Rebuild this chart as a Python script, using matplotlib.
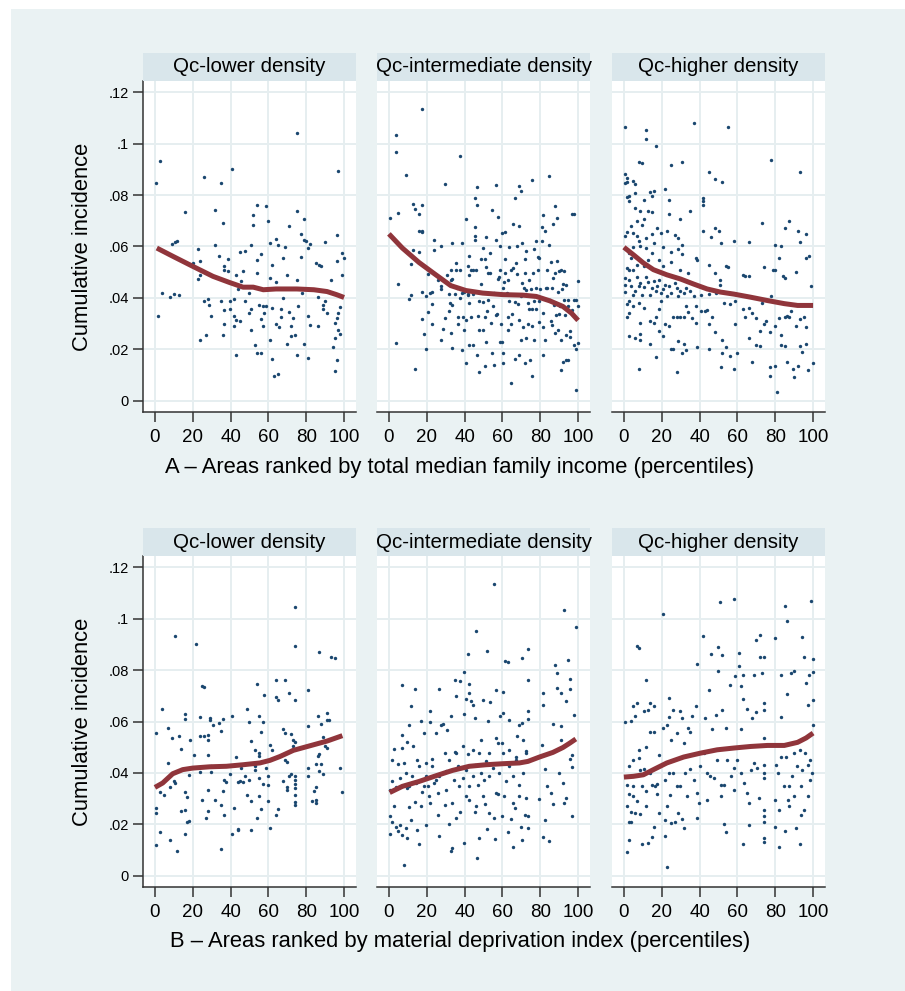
import numpy as np
import matplotlib
matplotlib.use("Agg")
import matplotlib.pyplot as plt
from matplotlib.patches import Rectangle

plt.rcParams['font.family'] = ['Liberation Sans', 'DejaVu Sans']

# ---- data (x = percentile rank, y = cumulative incidence) ----
panel_titles = ['Qc-lower density', 'Qc-intermediate density', 'Qc-higher density']
row_titles = ['A \u2013 Areas ranked by total median family income (percentiles)',
              'B \u2013 Areas ranked by material deprivation index (percentiles)']
xticks = [0, 20, 40, 60, 80, 100]
yticks = [0, .02, .04, .06, .08, .1, .12]
ytick_labels = ['0', '.02', '.04', '.06', '.08', '.1', '.12']

# A: income, lower density
a1_pts = [(0.7,.0845),(2.8,.0933),(1.8,.033),(3.7,.0419),(7.8,.0403),(9.9,.0416),(12.8,.041),(8.9,.0611),
    (10.8,.0619),(11.9,.062),(15.8,.0734),(19.9,.0536),(22.7,.059),(23.8,.0542),(22.7,.0472),(23.8,.0488),
    (23.8,.0235),(25.7,.0869),(25.7,.039),(27.8,.0396),(26.8,.0258),(28.7,.0371),(29.8,.033),(31.7,.0743),
    (31.7,.0606),(33.7,.0562),(34.8,.0846),(34.8,.0388),(35.8,.0693),(35.8,.0258),(36.7,.0523),(36.7,.0509),
    (36.7,.0354),(36.7,.03),(38.8,.055),(38.8,.0503),(39.7,.0387),(39.7,.0359),(40.8,.0902),(41.7,.0396),
    (41.7,.033),(41.7,.0292),(42.7,.0489),(42.7,.0313),(42.7,.0178),(43.8,.0436),(44.9,.058),(44.9,.0309),
    (45.7,.0467),(46.8,.0505),(47.7,.0584),(47.7,.0388),(49.8,.0419),(49.8,.0343),(50.9,.0605),(50.9,.0357),
    (50.9,.0274),(51.9,.0721),(51.9,.0682),(52.8,.0217),(53.9,.0762),(53.9,.0546),(53.9,.0496),(53.9,.0188),
    (55,.0371),(55.9,.0572),(55.9,.0318),(55.9,.0186),(56.9,.0367),(56.9,.0292),(57.8,.0341),(58.9,.0759),
    (58.9,.0367),(59.9,.07),(60.8,.0615),(60.8,.0479),(60.8,.0235),(61.9,.0528),(61.9,.0363),(61.9,.0162),
    (62.9,.0097),(63.8,.0631),(63.8,.0463),(63.8,.0298),(64.9,.0605),(64.9,.0104),(65.8,.0289),(66.8,.0357),
    (66.8,.0328),(67.9,.0554),(67.9,.04),(69,.0597),(69.9,.0489),(69.9,.0223),(70.9,.0681),(70.9,.0344),
    (72,.0292),(72,.0254),(72.9,.0324),(73.9,.0256),(75,.1042),(75,.0736),(75,.047),(75,.0179),(75.9,.0367),
    (77,.065),(77,.0559),(78,.0419),(78.9,.0707),(78.9,.0627),(78.9,.0223),(80,.0621),(80.9,.033),(80.9,.0167),
    (81.9,.0295),(81.9,.061),(81,.0596),(84.9,.0536),(86,.0292),(86,.0402),(87,.0528),(87.9,.0525),(89,.0374),
    (89,.0357),(90.1,.0616),(90.1,.0388),(91,.0341),(93.1,.0471),(94,.0211),(95,.0304),(95,.0245),(95,.0118),
    (96.1,.0646),(96.1,.0545),(96.1,.0324),(96.1,.016),(97,.0894),(97,.0341),(97,.0276),(98,.0366),(98,.0261),
    (99.1,.0575),(99.1,.049),(100,.0554)]
a1_fit = [(1,.0594),(10,.0560),(20,.0523),(30.7,.0484),(39.5,.046),(46.6,.0442),(52,.0442),(57.3,.0432),
    (64,.0435),(75,.0435),(84,.0432),(91,.0425),(96,.0413),(100,.0402)]

# A: income, intermediate density
a2_pts = [(0.7,.0711),(3.9,.1034),(3.9,.0967),(4.8,.073),(4.8,.0453),(3.9,.0227),(8.8,.0877),(10.8,.0397),
    (11.9,.0411),(11.9,.0533),(12.9,.0765),(12.9,.0588),(13.8,.0746),(13.8,.0123),(15.8,.0726),(15.8,.066),
    (15.8,.058),(17.7,.066),(17.7,.0655),(17.7,.076),(17.7,.1134),(17.7,.0422),(17.7,.0318),(18.8,.0259),
    (19.8,.0406),(19.8,.0202),(20.7,.0493),(20.7,.0346),(21.8,.0419),(22.7,.0423),(22.7,.0378),(22.7,.0298),
    (23.7,.0627),(23.7,.0588),(25.7,.0471),(27.6,.0445),(27.6,.0433),(27.6,.0602),(27.6,.0235),(28.7,.0281),
    (29.7,.0842),(29.7,.0323),(30.8,.0491),(31.7,.0415),(31.7,.0348),(32.7,.051),(32.7,.0263),(33.6,.0612),
    (33.6,.0475),(33.6,.0371),(33.6,.0206),(34.7,.0416),(35.6,.0537),(35.6,.051),(36.5,.0327),(36.5,.03),
    (37.5,.0952),(37.5,.051),(37.5,.04),(38.6,.0612),(38.6,.0197),(39.6,.0276),(40.5,.0708),(40.5,.0315),
    (40.5,.0147),(41.6,.0526),(41.6,.0413),(42.5,.0562),(42.5,.0217),(43.5,.051),(44.6,.0414),(44.6,.0218),
    (45.5,.0627),(45.5,.0676),(45.5,.0789),(45.5,.0641),(46.5,.0833),(46.5,.076),(46.5,.0178),(47.6,.0113),
    (47.6,.0276),(48.5,.055),(48.5,.0453),(49.6,.0593),(49.6,.0276),(50.6,.055),(50.6,.0136),(51.5,.0638),
    (51.5,.023),(52.6,.0497),(52.6,.0393),(53.6,.0575),(54.5,.0742),(54.5,.0186),(55.6,.0419),(55.6,.0139),
    (56.6,.0838),(56.6,.0627),(56.6,.0333),(57.5,.0713),(57.5,.0475),(58.6,.0602),(58.6,.023),(59.6,.0654),
    (59.6,.023),(60.5,.0186),(60.5,.0147),(61.6,.0655),(61.6,.055),(62.7,.0471),(62.7,.0328),(63.5,.0597),
    (64.6,.0297),(64.6,.0069),(65.7,.0687),(65.7,.0515),(66.5,.0162),(66.5,.079),(67.6,.0602),(67.6,.0493),
    (68.7,.0834),(68.7,.0681),(68.7,.018),(69.7,.0817),(69.7,.0235),(70.6,.0612),(70.6,.0458),(71.7,.0551),
    (71.7,.0149),(72.6,.0584),(72.6,.0243),(73.6,.0381),(73.6,.03),(74.7,.016),(75.8,.086),(75.8,.0095),
    (75.8,.0293),(76.6,.059),(76.6,.0237),(77.7,.0621),(77.7,.0359),(78.8,.056),(79.6,.0555),(80.7,.0621),
    (80.7,.0675),(81.6,.0721),(81.6,.0289),(81.6,.0178),(82.7,.066),(82.7,.0235),(83.7,.0439),(84.8,.0872),
    (84.8,.0605),(85.7,.0538),(85.7,.0309),(86.7,.0689),(86.7,.0476),(87.8,.0756),(87.8,.0263),(88.7,.0711),
    (88.7,.0544),(89.7,.0503),(89.7,.0339),(90.8,.0121),(90.8,.0237),(91.8,.0152),(91.8,.0453),(92.7,.0503),
    (92.7,.0393),(93.8,.0451),(93.8,.016),(94.9,.016),(94.9,.0392),(95.8,.0271),(95.8,.0248),(96.8,.0727),
    (96.8,.0354),(97.9,.0728),(97.9,.0393),(97.9,.0217),(98.8,.0043),(98.8,.0393),(98.8,.0201),(99.9,.0467),
    (99.9,.0367),(99.9,.0224),
    (39.9,.0423),(41.7,.0414),(47.8,.0387),(49.6,.0384),(51.7,.0348),(55.2,.0367),(57.3,.0336),(60.2,.044),
    (60.9,.0462),(61.3,.0497),(62.3,.0419),(63.7,.0387),(65.1,.0339),(66.5,.0385),(68.3,.0375),(70,.0406),
    (71.2,.0439),(72.6,.0432),(74,.0357),(75.1,.0435),(76.5,.039),(77.9,.0439),(79.3,.0388),(80,.0435),
    (81.4,.0341),(83.2,.0439),(85,.0393),(86.4,.0439),(87.1,.0372),(88.1,.0333),(89.6,.0424),(90.6,.0367),
    (91.7,.0435),(93.1,.0335),(94.5,.0367),(42.5,.0489),(44.2,.0507),(46,.051),(51.3,.052),(53.5,.0497),
    (58.1,.0481),(58.8,.051),(64.8,.051),(67.3,.0536),(71.9,.0497),(74.3,.0471),(76.1,.0497),(78.6,.051),
    (83.5,.051),(87.6,.0497),(90.9,.0507),(32.9,.0471),(35.8,.0439),(38.6,.0419),(32.2,.0381),(38.9,.0328),
    (42.1,.0381),(43.5,.0328),(47.1,.0331),(50.6,.0328),(54.2,.0302),(59.1,.03),(63,.0276),(69,.0315),
    (70.8,.0289),(75.4,.0357),(79.6,.0305),(86,.0296),(89.6,.0276),(93.8,.0256)]
a2_fit = [(0,.0649),(7.1,.0594),(15.9,.0538),(24.8,.049),(32.7,.0448),(40.7,.0429),(49.6,.0419),(60.2,.0413),
    (70.8,.0411),(77.9,.0406),(85,.0389),(92,.0367),(96.5,.0341),(100,.0313)]

# A: income, higher density
a3_pts = [(0.7,.1066),(11.7,.1051),(11.7,.1016),(16.8,.0992),(36.9,.1078),(55,.1063),(7.8,.093),(9.8,.0925),
    (24.8,.0916),(30.9,.0929),(44.9,.0889),(48,.0864),(52,.085),(78,.0938),(93.1,.0889),(0.7,.0882),(0.7,.0847),
    (1.8,.0865),(1.8,.085),(4.8,.0856),(5.9,.0843),(1.8,.0793),(2.7,.0798),(2.7,.0777),(5.9,.0808),(5.9,.075),
    (8.7,.0737),(10.8,.078),(13.8,.0812),(15.8,.0816),(14.7,.0795),(21.8,.0825),(23.8,.0781),(23.8,.0725),
    (34.9,.0739),(41.8,.0789),(41.8,.0776),(41.8,.0762),(73,.0692),(87.1,.07),(92,.066),(96.1,.0647),(93.1,.0617),
    (84.9,.0671),(80,.0604),(83,.0601),(58,.0623),(66,.0618),(47.9,.0671),(50,.066),(51.1,.0612),(41.8,.066),
    (45.9,.0638),(29.8,.0705),(12.8,.0737),(14.7,.0734),(10.8,.0708),(9.8,.0685),(6.7,.0698),(3.7,.0681),
    (0.7,.0642),(1.8,.0655),(4.8,.0653),(6.7,.064),(7.8,.062),(11.7,.0633),(14.7,.0647),(15.8,.0614),(17.7,.0672),
    (19.7,.0653),(22.7,.0659),(26.8,.0646),(28.7,.0633),(30.9,.0606),(28.7,.0591),(30.9,.0572),(24.8,.0579),
    (20.7,.0598),(11.7,.0594),(8.7,.0603),(4.8,.0598),(2.7,.0575),(3.7,.0555),(1.8,.0516),(2.7,.051),(4.8,.051),
    (6.7,.0529),(8.7,.0549),(10.8,.0523),(12.8,.0549),(14.7,.0575),(18.8,.0549),(20.7,.0523),(24.8,.0538),
    (29.8,.051),(33.9,.0497),(37.9,.0555),(38.8,.0549),(44.9,.0529),(47.9,.0497),(54.1,.0523),(55.1,.0521),
    (63,.0491),(63.8,.0484),(66,.0487),(73.9,.0521),(78.9,.051),(80,.051),(82.1,.0555),(84,.0487),(84.9,.0478),
    (91.1,.05),(98.9,.0445),(98,.0562),(96.1,.0555),
    (0.7,.0476),(0.7,.0452),(0.7,.0422),(2.7,.0471),(3.7,.0445),(4.8,.0413),(5.9,.0429),(6.7,.0482),(7.8,.0445),
    (8.7,.0458),(9.8,.0411),(10.8,.0441),(11.7,.0482),(12.8,.0463),(13.8,.0411),(14.7,.0439),(15.8,.0465),
    (16.8,.0426),(17.7,.0445),(18.8,.0468),(19.7,.0419),(20.7,.0435),(21.8,.0452),(22.7,.0406),(23.8,.0445),
    (24.8,.0419),(26.8,.0458),(27.8,.0439),(28.7,.0409),(29.8,.0429),(31.9,.0419),(32.8,.0439),(34.8,.0429),
    (36.9,.0409),(40.8,.0413),(44.9,.0415),(48.9,.0419),(50.9,.0452),(52.8,.0422),(50.9,.0471),
    (1.8,.0378),(2.7,.0387),(1.8,.0327),(2.7,.034),(4.8,.0367),(7.8,.038),(8.7,.0304),(10.8,.0361),(13.8,.0311),
    (15.8,.0302),(16.8,.0328),(18.8,.0357),(19.7,.0387),(21.8,.0298),(23.8,.0292),(25.9,.0327),(27.8,.0327),
    (29.8,.0327),(31.9,.0327),(32.8,.0367),(33.9,.0344),(35.8,.0322),(37.9,.0367),(37.9,.0304),(40.8,.0348),
    (42.9,.0348),(43.8,.0352),(44.9,.0298),(46.8,.0328),(47.9,.0266),(52,.0237),(52.8,.0381),(55.9,.0377),
    (58.9,.0387),(58.9,.0297),(62.9,.0357),(63.8,.0328),(66,.036),(67.9,.0341),(70,.0324),(72,.027),(73,.038),
    (73.9,.03),(75,.0309),(77,.0269),(78,.0406),(80,.0292),(82.1,.0323),(83,.0257),(85.1,.0328),(86,.0331),
    (87.1,.0328),(88.1,.0349),(91.1,.0293),(93.1,.0318),(95,.0328),(96.1,.0289),
    (2.7,.0253),(5.9,.0243),(8.7,.0235),(8.7,.0261),(13.8,.0221),(18.8,.027),(20.7,.0253),(24.8,.0201),
    (25.9,.0201),(28.7,.0231),(30.9,.0188),(31.9,.0222),(32.8,.0196),(38.8,.0209),(44.9,.0201),(52,.0188),
    (53.9,.0209),(55.9,.0173),(60,.0186),(66,.0244),(70,.0217),(72,.0212),(83,.0218),(85.1,.0214),(93.1,.0212),
    (94.1,.0192),(96.1,.0222),
    (7.8,.0123),(16.8,.017),(27.8,.0113),(51.1,.013),(58,.0123),(67.9,.0153),(77,.0095),(77,.0131),(80,.0136),
    (81,.0036),(86,.015),(89.2,.0125),(90.1,.0092),(92,.0136),(97.2,.0121),(100,.0148)]
a3_fit = [(0,.0597),(5,.0568),(10.3,.0536),(15.6,.051),(22.7,.049),(29.8,.0474),(36.9,.0454),(44,.0435),
    (51,.0423),(58.2,.0415),(67,.0403),(75.9,.039),(84.8,.0378),(91.8,.0371),(100,.0371)]

# B: deprivation, lower density
b1_pts = [(0.7,.0555),(0.7,.0263),(0.7,.0244),(0.7,.0121),(2.8,.0169),(2.8,.0327),(3.7,.0649),(4.8,.0313),
    (6.7,.0575),(6.7,.0439),(7.8,.0345),(7.8,.014),(8.9,.0536),(9.9,.0367),(10.8,.0361),(10.8,.0934),(11.9,.0097),
    (12.8,.0545),(13.8,.0493),(13.8,.0253),(15.8,.0631),(15.8,.0611),(15.8,.0326),(15.8,.0257),(15.8,.0162),
    (16.8,.0305),(16.8,.0211),(17.9,.0393),(17.9,.0215),(18.8,.0529),(20.7,.0471),(21.8,.0902),(23.8,.0617),
    (23.8,.0542),(23.8,.0402),(24.8,.0737),(25.9,.0734),(24.8,.0296),(25.9,.0542),(26.8,.0224),(27.8,.0549),
    (27.8,.0527),(27.8,.0471),(27.8,.0332),(27.8,.0253),(28.9,.0614),(28.9,.0607),(29.8,.0426),(29.8,.0402),
    (30.9,.0585),(31.7,.0296),(33.7,.0594),(34.8,.0564),(34.8,.0276),(34.8,.0105),(35.8,.0611),(35.8,.0331),
    (36.7,.0237),(36.7,.0374),(37.8,.0365),(39.7,.0397),(40.8,.062),(40.8,.0163),(41.7,.0262),(42.7,.0462),
    (43.8,.0183),(43.8,.0179),(43.8,.0365),(44.9,.037),(45.7,.0419),(46.8,.0366),(47.7,.0389),(48.8,.065),
    (48.8,.0315),(49.8,.0597),(49.8,.0371),(50.9,.0525),(50.9,.0293),(50.9,.0179),(52.8,.049),(52.8,.0426),
    (52.8,.0413),(53.9,.0746),(53.9,.0224),(55,.0623),(55,.0477),(55,.0467),(55,.038),(55,.0311),(55.9,.056),
    (55.9,.0259),(56.9,.0597),(56.9,.0357),(57.8,.0702),(58.9,.0419),(59.9,.0389),(59.9,.0354),(59.9,.0292),
    (60.8,.0507),(60.8,.0186),(61.9,.049),(63.8,.0763),(63.8,.0694),(64.9,.0685),(63.8,.0235),(64.9,.0259),
    (67.9,.0572),(67.9,.037),(69,.076),(69,.0555),(69,.0451),(69.9,.0441),(69.9,.0345),(69.9,.0332),(70.9,.0711),
    (70.9,.0387),(72,.0553),(72,.049),(72,.0397),(72.9,.0529),(72.9,.0506),(73.9,.1043),(73.9,.0895),(73.9,.0685),
    (73.9,.0519),(73.9,.0387),(73.9,.0374),(73.9,.0357),(73.9,.0341),(73.9,.0315),(73.9,.0289),(73.9,.0276),
    (80.9,.0723),(80.9,.0581),(80.9,.0419),(80.9,.0389),(83,.0292),(84,.0331),(84.9,.0436),(84.9,.0345),
    (84.9,.0296),(84.9,.0285),(86,.062),(86,.0467),(87,.087),(87,.0474),(87,.0406),(87.9,.0592),(87.9,.0435),
    (89,.0538),(89,.0397),(90.1,.0503),(91,.0633),(91,.0497),(91,.0605),(92,.0605),(93.1,.085),(95,.0846),
    (98,.0419),(99.1,.0328)]
b1_fit = [(0,.0344),(4.1,.0361),(9.4,.0397),(14.7,.0413),(20,.0419),(28.9,.0424),(37.8,.0426),(46.6,.0432),
    (55.5,.0439),(60.8,.0449),(66.1,.0464),(73.2,.0488),(82.1,.0506),(91,.0524),(99.1,.0545)]

# B: deprivation, intermediate density
b2_pts = [(0.7,.0162),(0.7,.0231),(0.7,.0335),(1.4,.0451),(1.8,.0367),(1.8,.0211),(2.8,.0494),(2.8,.0272),
    (3.9,.0192),(3.9,.0344),(4.8,.0436),(4.8,.0176),(5.8,.038),(5.8,.0198),(6.9,.0546),(6.9,.0496),(6.9,.0743),
    (6.9,.016),(7.8,.0044),(7.8,.0439),(8.8,.04),(8.8,.0186),(9.7,.0522),(9.7,.034),(9.7,.0147),(10.8,.0587),
    (10.8,.0266),(11.9,.0662),(11.9,.0218),(12.7,.0503),(13.8,.0728),(13.8,.0289),(14.9,.0451),(14.9,.0179),
    (15.8,.0123),(16.8,.0603),(16.8,.027),(17.7,.0328),(18.8,.0555),(18.8,.0348),(19.8,.0198),(19.8,.0439),
    (20.7,.0348),(21.8,.0642),(21.8,.0598),(21.8,.0283),(22.7,.0455),(23.7,.0361),(24.8,.0555),(25.7,.0236),
    (26.7,.0727),(26.7,.0156),(27.6,.0585),(28.7,.0592),(29.7,.0477),(29.7,.0275),(30.8,.0566),(31.7,.02),
    (32.7,.062),(32.7,.0095),(33.6,.0108),(34.7,.0763),(34.7,.0481),(35.6,.0698),(35.6,.0224),(37.7,.0756),
    (37.7,.025),(39.6,.0793),(39.6,.0629),(39.6,.0127),(40.5,.0689),(41.6,.0474),(41.6,.0861),(42.5,.0747),
    (42.5,.0712),(43.5,.0679),(44.6,.0663),(45.5,.0614),(45.5,.0249),(46,.0952),(46.5,.007),(47.6,.0147),
    (48.7,.0529),(49.6,.0685),(50.6,.0279),(51.7,.0872),(51.7,.0182),(52.6,.0601),(53.6,.0675),(55.6,.0227),
    (55.6,.1135),(55.9,.0143),(56.6,.0721),(56.6,.0536),(57.5,.0319),(58.6,.062),(59.6,.0516),(59.6,.0234),
    (60.5,.0633),(60.5,.0716),(61.6,.0835),(62.7,.0831),(62.7,.0169),(63.5,.0607),(64.6,.0221),(65.7,.0114),
    (66.5,.0262),(67.6,.0542),(68.7,.0588),(69.7,.0192),(70.6,.0847),(70.6,.0594),(70.6,.0138),(71.7,.0237),
    (72.6,.0484),(73.6,.088),(73.6,.076),(73.6,.064),(73.6,.061),(73.6,.0186),(73.6,.0231),
    (79.6,.0298),(80.7,.0509),(81.6,.0711),(81.6,.0663),(81.6,.0153),(82.7,.0415),(82.7,.0218),(83.7,.0348),
    (84.8,.0134),(85.7,.0324),(86.7,.028),(86.7,.0592),(87.8,.0819),(88.7,.079),(88.7,.073),(89.7,.04),
    (90.8,.0711),(90.8,.0581),(90.8,.0529),(91.8,.0361),(92.7,.0283),(92.7,.1035),(93.8,.0679),(93.8,.0302),
    (94.9,.0838),(95.8,.0765),(95.8,.0728),(95.8,.0454),(96.8,.0231),(96.8,.0423),(97.9,.0627),(98.8,.0968),
    (96.8,.0471),
    (23,.0426),(26.5,.0387),(30.1,.0406),(31.9,.0451),(34.5,.0374),(36.3,.0426),(38.9,.038),(40.7,.041),
    (42.5,.0348),(44.2,.0387),(45.7,.0432),(47.1,.0354),(48.5,.04),(50.3,.0374),(51.3,.0445),(53.1,.0387),
    (54.9,.0419),(56.6,.0322),(58.4,.04),(60.2,.0477),(61.9,.0367),(63.7,.0426),(65.5,.0387),(67.3,.0451),
    (69,.0354),(70.8,.04),(72.6,.0302),(42.5,.0296),(46,.027),(49.6,.0309),(53.1,.0244),(61.1,.0309),
    (65.5,.0283),(69,.0309),(30.1,.0335),(33.6,.0283),(37.2,.0348),(40.7,.0311),(24.8,.0374),(19.5,.0387),
    (15.9,.0426),(12.4,.0387),(10.6,.0348),(14.2,.0361),(21.2,.0309),(26.2,.0322),(35.4,.0477),(38.9,.0503),
    (44.2,.049),(47.8,.0477),(53.1,.0477),(57.5,.0516),(63.7,.049),(67.3,.0464),(70.8,.0529),(72.6,.0477)]
b2_fit = [(0.4,.0324),(7.1,.0348),(15.9,.0367),(24.8,.0389),(33.6,.041),(42.5,.0426),(51.3,.0432),(60.2,.0436),
    (69,.0439),(73.5,.0445),(79.6,.0462),(86.7,.048),(92,.0499),(95.6,.0516),(98.8,.0532)]

# B: deprivation, higher density
b3_pts = [(0.7,.0597),(1.8,.0352),(1.8,.0272),(1.8,.0093),(2.7,.0428),(2.7,.0319),(2.7,.021),(3.7,.0601),
    (3.7,.0211),(3.7,.025),(2.7,.0138),(4.8,.0659),(4.8,.0449),(4.8,.0309),(5.7,.0623),(5.7,.0244),(6.7,.0672),
    (6.7,.0893),(7.8,.0885),(7.8,.049),(7.8,.0458),(8.7,.0413),(8.7,.024),(9.8,.0125),(10.8,.0415),(10.8,.064),
    (11.7,.076),(11.7,.05),(11.7,.0331),(11.7,.027),(12.8,.0646),(12.8,.0127),(13.8,.0672),(13.8,.0558),
    (14.7,.0354),(14.7,.015),(15.8,.0662),(15.8,.0559),(15.8,.0192),(17.7,.0357),(18.8,.0244),(18.8,.0471),
    (20.7,.0575),(20.7,.1018),(21.8,.0218),(21.8,.0156),(22.7,.0588),(22.7,.027),(22.7,.0036),(23.8,.0692),
    (23.8,.0617),(24.8,.0529),(24.8,.0205),(25.9,.0646),(26.8,.0211),(27.8,.0555),(28.7,.0244),(29.8,.064),
    (30.9,.0614),(30.9,.0221),(31.9,.0516),(31.9,.0186),(33.9,.0575),(35,.0558),(35.8,.0623),(37.9,.0662),
    (38.8,.0824),(38.8,.0224),(39.9,.0283),(41.8,.0931),(42.9,.0614),(44.9,.0724),(46,.0864),(46.8,.0571),
    (48.9,.0624),(49.9,.089),(49.9,.0798),(50.9,.1063),(52,.086),(52,.0644),(53,.0202),(53.9,.0169),(53.9,.0575),
    (55.9,.0743),(58,.1077),(58.9,.0776),(61,.0867),(61,.0815),(61.9,.0737),(62.9,.0782),(62.9,.0688),
    (61.9,.0571),(62.9,.0125),(64.9,.065),(66,.0198),(67.9,.0614),(69,.0781),(69.9,.0637),(69.9,.0918),
    (72,.0938),(72,.0852),(73,.0789),(73.9,.0852),(73.9,.0672),(73.9,.0646),(73.9,.0536),(73.9,.0432),
    (73.9,.04),(73.9,.038),(73.9,.0257),(73.9,.0231),(73.9,.0211),(73.9,.0147),(73.9,.013),(80,.0925),
    (80,.0192),(80,.0296),(82.1,.0114),(83,.0782),(83,.0617),(84.9,.105),(85.1,.0173),(86,.0992),(86,.0705),
    (88.1,.0789),(90.1,.0795),(91.1,.0186),(93.1,.0125),(94.1,.0928),(95,.0851),(96.1,.075),(97.2,.0666),
    (98,.0779),(99.1,.1067),(100,.0843),(100,.0791),(100,.0682),(100,.0588),
    (80.3,.0432),(81.2,.04),(83,.0464),(84.4,.0348),(85.8,.0461),(87.4,.0348),(88.7,.0387),(90.1,.0477),
    (91.5,.0426),(92.9,.049),(94.3,.0413),(95.7,.0477),(97.2,.0432),(98.6,.0451),(99.6,.04),(98.6,.0374),
    (93.6,.0348),(90.1,.0309),(86.5,.0296),(97.2,.0309),(93.6,.0237),(95.4,.0257),(87.4,.027),(82.1,.0257),
    (26.2,.04),(29.8,.0348),(32.4,.04),(35.1,.0415),(38.8,.0322),(40.4,.0426),(42.2,.0477),(44,.04),
    (45.7,.0387),(47.5,.038),(49.3,.0451),(51.1,.0354),(52.8,.0352),(54.6,.0451),(56.4,.0389),(58.2,.0419),
    (60,.0451),(61.7,.04),(63.5,.0361),(65.2,.0322),(67,.0413),(68.8,.0439),(70.6,.0419),(71.5,.0302),
    (66.1,.0283),(58.2,.0332),(51.1,.0309),(44,.0296),(36.9,.0374),(33.5,.0309),(28,.0348),(24.5,.0315),
    (21.8,.0374),(23.6,.04),(19.1,.0426),(17.4,.0319),(16.5,.0348),(13.8,.04),(9.4,.0348),(6.7,.029),(5,.0348)]
b3_fit = [(0,.0384),(5,.0387),(10.3,.0393),(15.6,.0413),(22.7,.0439),(31.6,.0462),(40.4,.0477),(49.3,.049),
    (58.2,.0497),(67,.0503),(75.9,.0507),(84.8,.0507),(91.8,.0519),(96.3,.0536),(100,.0555)]

rows = [[(a1_pts, a1_fit), (a2_pts, a2_fit), (a3_pts, a3_fit)],
        [(b1_pts, b1_fit), (b2_pts, b2_fit), (b3_pts, b3_fit)]]

# ---- styling ----
bg = '#eaf2f3'
strip = '#d9e6eb'
gridc = '#e6eef0'
dot = '#1a476f'
fitc = '#90353b'
axc = '#333333'

W, H = 905, 991
fig = plt.figure(figsize=(W / 100, H / 100), dpi=100, facecolor='white')
fig.patches.append(Rectangle((11 / W, 0), 1 - 11 / W, 1 - 9 / H, transform=fig.transFigure,
                             facecolor=bg, edgecolor='none', zorder=-10))

lefts = [143, 377, 612]
pw = 213
row_top = [81, 556]     # top of plot area (px)
ph = 331
strip_h = 28
xlabel_y = [467, 941]

for r in range(2):
    for c in range(3):
        x0 = lefts[c] / W
        y0 = 1 - (row_top[r] + ph) / H
        ax = fig.add_axes([x0, y0, pw / W, ph / H])
        ax.set_facecolor('white')
        pts, fit = rows[r][c]
        pts = np.array(pts)
        fit = np.array(fit)
        ax.scatter(pts[:, 0], pts[:, 1], s=6, color=dot, linewidths=0, zorder=3)
        ax.plot(fit[:, 0], fit[:, 1], color=fitc, lw=3.6, solid_capstyle='butt', zorder=4)
        ax.set_xlim(-6.3, 106.3)
        ax.set_ylim(-0.0043, 0.1243)
        ax.set_xticks(xticks)
        ax.set_yticks(yticks)
        ax.grid(True, color=gridc, lw=1.4, zorder=0)
        ax.set_axisbelow(True)
        for s in ['top', 'right']:
            ax.spines[s].set_visible(False)
        ax.spines['bottom'].set_color(axc)
        ax.spines['bottom'].set_linewidth(1.1)
        ax.tick_params(axis='x', colors=axc, length=7, width=1.1, labelsize=13.5, pad=5,
                       labelcolor='black')
        if c == 0:
            ax.spines['left'].set_color(axc)
            ax.spines['left'].set_linewidth(1.1)
            ax.set_yticklabels(ytick_labels)
            ax.tick_params(axis='y', colors=axc, length=7, width=1.1, labelsize=10.5, pad=3,
                           labelcolor='black')
            ax.set_ylabel('Cumulative incidence', fontsize=15.8, labelpad=11)
        else:
            ax.spines['left'].set_visible(False)
            ax.tick_params(axis='y', length=0, labelleft=False)

        # strip header
        fig.patches.append(Rectangle((x0, 1 - row_top[r] / H), pw / W, strip_h / H,
                                     transform=fig.transFigure, facecolor=strip,
                                     edgecolor='none'))
        fig.text(x0 + pw / W / 2, 1 - (row_top[r] - strip_h / 2) / H, panel_titles[c],
                 ha='center', va='center', fontsize=14.8)

    fig.text(460 / W, 1 - xlabel_y[r] / H, row_titles[r], ha='center', va='center', fontsize=15.8)

fig.savefig('out.png', dpi=100, facecolor='white')
